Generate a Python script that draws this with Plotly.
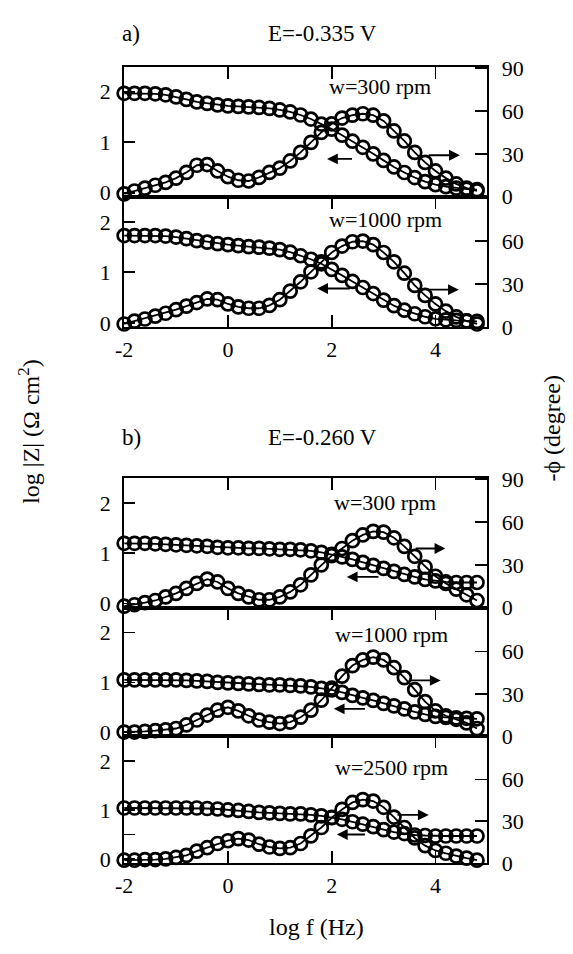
import plotly.graph_objects as go

# ---------------- data ----------------
LOGF = [-2.0, -1.8, -1.6, -1.4, -1.2, -1.0, -0.8, -0.6, -0.4, -0.2,
        0.0, 0.2, 0.4, 0.6, 0.8, 1.0, 1.2, 1.4, 1.6, 1.8,
        2.0, 2.2, 2.4, 2.6, 2.8, 3.0, 3.2, 3.4, 3.6, 3.8,
        4.0, 4.2, 4.4, 4.6, 4.8]

# a) E = -0.335 V, w = 300 rpm
A1_LOGZ = [1.97, 1.97, 1.97, 1.96, 1.94, 1.90, 1.85, 1.80, 1.77, 1.74,
           1.72, 1.71, 1.70, 1.69, 1.67, 1.64, 1.60, 1.54, 1.46, 1.36,
           1.26, 1.14, 1.02, 0.90, 0.77, 0.64, 0.51, 0.40, 0.30, 0.22,
           0.16, 0.12, 0.09, 0.07, 0.06]
A1_PHI = [2, 4, 6, 8, 10, 13, 17, 22, 22.5, 18,
          14, 11.5, 11, 13.5, 17, 20, 25, 31, 38, 45,
          51, 55, 57, 58, 57, 53, 46, 39, 31, 24,
          18, 13, 9, 6, 4]
# a) E = -0.335 V, w = 1000 rpm
A2_LOGZ = [1.73, 1.73, 1.73, 1.73, 1.72, 1.70, 1.67, 1.63, 1.60, 1.57,
           1.55, 1.53, 1.51, 1.50, 1.48, 1.45, 1.40, 1.33, 1.26, 1.17,
           1.06, 0.94, 0.82, 0.70, 0.58, 0.45, 0.34, 0.25, 0.18, 0.12,
           0.08, 0.06, 0.05, 0.04, 0.03]
A2_PHI = [2, 4, 5.5, 7.5, 9.5, 12, 14.5, 17, 19.5, 19,
          16, 14, 13, 13, 15, 19, 25, 31.5, 38.5, 45.5,
          52, 56.5, 59.5, 60, 57.5, 52, 45.5, 37.5, 29, 22,
          16, 11, 7, 4, 2]
# b) E = -0.260 V, w = 300 rpm
B1_LOGZ = [1.20, 1.20, 1.20, 1.19, 1.18, 1.17, 1.16, 1.15, 1.14, 1.12,
           1.11, 1.11, 1.10, 1.10, 1.09, 1.08, 1.08, 1.07, 1.05, 1.02,
           0.98, 0.93, 0.88, 0.82, 0.76, 0.70, 0.64, 0.58, 0.53, 0.48,
           0.45, 0.43, 0.42, 0.42, 0.42]
B1_PHI = [1, 2, 3.5, 5, 7.5, 10, 13.5, 17, 20, 18,
          13.5, 10, 7.5, 5.5, 5.5, 7.5, 11, 16, 23, 30,
          36.5, 41.5, 47, 51, 53.5, 53, 49, 43, 36, 28.5,
          22, 17, 13, 9, 5]
# b) E = -0.260 V, w = 1000 rpm
B2_LOGZ = [1.05, 1.05, 1.05, 1.05, 1.05, 1.05, 1.04, 1.03, 1.02, 1.00,
           0.99, 0.98, 0.97, 0.96, 0.95, 0.95, 0.94, 0.93, 0.91, 0.88,
           0.85, 0.80, 0.74, 0.69, 0.64, 0.58, 0.53, 0.47, 0.41, 0.36,
           0.32, 0.30, 0.29, 0.28, 0.27]
B2_PHI = [3, 3, 3.5, 4, 4.5, 5.5, 8, 11.5, 15, 18.5,
          20.5, 18, 14.5, 11.5, 10, 9, 10, 13.5, 18.5, 25.5,
          34, 42.5, 50, 54, 56, 54, 48.5, 41.5, 33, 24.5,
          18, 14.5, 12, 9.5, 5.5]
# b) E = -0.260 V, w = 2500 rpm
B3_LOGZ = [1.04, 1.04, 1.04, 1.04, 1.04, 1.04, 1.04, 1.04, 1.03, 1.02,
           1.00, 0.99, 0.97, 0.95, 0.94, 0.93, 0.92, 0.92, 0.90, 0.88,
           0.85, 0.81, 0.76, 0.71, 0.66, 0.60, 0.55, 0.52, 0.49, 0.48,
           0.47, 0.47, 0.47, 0.47, 0.47]
B3_PHI = [2, 2, 2.5, 2.5, 3, 4, 5.5, 8.5, 11, 14,
          16, 17.5, 16.5, 13.5, 11.5, 10.5, 11, 14, 19.5, 25.5,
          32.5, 38.5, 43.5, 45.5, 44.5, 40, 33, 25.5, 18, 12.5,
          9, 7, 5, 3.5, 2]

SPEEDS = ["w=300 rpm", "w=1000 rpm", "w=300 rpm", "w=1000 rpm", "w=2500 rpm"]
X_TICKS = [-2, 0, 2, 4]
X_TICKTEXT = ["-2", "0", "2", "4"]
LEFT_TICKS = [0, 1, 2]
RIGHT_TICKS_TOP = [0, 30, 60, 90]
RIGHT_TICKS = [0, 30, 60]

# ---------------- layout helpers ----------------
W, H = 573, 954
FONT = "Liberation Serif, Times New Roman, Times, DejaVu Serif, serif"
XL, XR = 117, 486


def fy(py):
    return 1 - py / H


def fx(px):
    return px / W


# panel frames in pixel rows (top, bottom)
panels = [
    dict(top=57, bot=190.5, z=A1_LOGZ, p=A1_PHI, rt=RIGHT_TICKS_TOP, bottom=False,
         lab=(377, 77), arrL=(1.91, 2.42, 0.67), arrR=(4.47, 3.84, 29)),
    dict(top=190.5, bot=324, z=A2_LOGZ, p=A2_PHI, rt=RIGHT_TICKS, bottom=True,
         lab=(383, 214), arrL=(1.72, 2.38, 0.68), arrR=(4.45, 3.84, 26)),
    dict(top=479, bot=612, z=B1_LOGZ, p=B1_PHI, rt=RIGHT_TICKS_TOP, bottom=False,
         lab=(382, 504), arrL=(2.29, 2.93, 0.53), arrR=(4.19, 3.59, 41.5)),
    dict(top=612, bot=744, z=B2_LOGZ, p=B2_PHI, rt=RIGHT_TICKS, bottom=False,
         lab=(389, 640), arrL=(2.04, 2.67, 0.47), arrR=(4.10, 3.50, 39.5)),
    dict(top=744, bot=874, z=B3_LOGZ, p=B3_PHI, rt=RIGHT_TICKS, bottom=True,
         lab=(389, 776), arrL=(2.10, 2.67, 0.50), arrR=(3.87, 3.24, 34.5)),
]

fig = go.Figure()
layout = {}
annotations = []

marker = dict(symbol="circle-open", size=13, color="black", line=dict(color="black", width=2.7))
line = dict(color="black", width=1.8)

tickfont = dict(family=FONT, size=22, color="black")

for i, pnl in enumerate(panels, start=1):
    xid = "x" if i == 1 else f"x{i}"
    yl_n, yr_n = 2 * i - 1, 2 * i
    ylid = "y" if yl_n == 1 else f"y{yl_n}"
    yrid = f"y{yr_n}"
    dom = [fy(pnl["bot"]), fy(pnl["top"])]

    fig.add_trace(go.Scatter(x=LOGF, y=pnl["z"], xaxis=xid, yaxis=ylid, mode="lines+markers",
                             marker=marker, line=line, cliponaxis=False, showlegend=False,
                             hoverinfo="skip"))
    fig.add_trace(go.Scatter(x=LOGF, y=pnl["p"], xaxis=xid, yaxis=yrid, mode="lines+markers",
                             marker=marker, line=line, cliponaxis=False, showlegend=False,
                             hoverinfo="skip"))

    xa = dict(domain=[fx(XL), fx(XR)], range=[-2, 5], anchor=ylid,
              tickvals=X_TICKS, ticktext=X_TICKTEXT,
              ticks="inside", ticklen=12, tickwidth=1.8, tickcolor="black",
              showline=True, linecolor="black", linewidth=2, showgrid=False, zeroline=False,
              tickfont=tickfont, fixedrange=True)
    if pnl["bottom"]:
        xa.update(side="bottom", mirror="ticks", showticklabels=True, ticklabelstandoff=2)
    else:
        xa.update(side="top", mirror=True, showticklabels=False)
    layout["xaxis" if i == 1 else f"xaxis{i}"] = xa

    ltv = LEFT_TICKS + ([0.5] if i == 5 else [])
    ltt = [str(v) if v != 0.5 else "" for v in ltv]
    layout["yaxis" if yl_n == 1 else f"yaxis{yl_n}"] = dict(
        domain=dom, range=[-0.08, 2.5], anchor=xid, side="left",
        tickvals=ltv, ticktext=ltt, ticks="inside", ticklen=11, tickwidth=1.8, tickcolor="black",
        showline=True, linecolor="black", linewidth=2, showgrid=False, zeroline=False,
        tickfont=tickfont, ticklabelstandoff=7, fixedrange=True)
    layout[f"yaxis{yr_n}"] = dict(
        domain=dom, range=[0, 91], anchor=xid, side="right", overlaying=ylid,
        tickvals=pnl["rt"], ticks="inside", ticklen=12, tickwidth=1.8, tickcolor="black",
        showline=True, linecolor="black", linewidth=2, showgrid=False, zeroline=False,
        tickfont=tickfont, ticklabelstandoff=8, fixedrange=True)

    # rotation speed label
    annotations.append(dict(text=SPEEDS[i - 1], x=fx(pnl["lab"][0]), y=fy(pnl["lab"][1]),
                            xref="paper", yref="paper", showarrow=False,
                            font=dict(family=FONT, size=22, color="black"),
                            xanchor="center", yanchor="middle"))
    # arrows pointing to the relevant axis
    hx, tx, yv = pnl["arrL"]
    annotations.append(dict(text="", x=hx, y=yv, ax=tx, ay=yv, xref=xid, yref=ylid,
                            axref=xid, ayref=ylid, showarrow=True, arrowhead=2,
                            arrowsize=1.2, arrowwidth=1.8, arrowcolor="black"))
    hx, tx, yv = pnl["arrR"]
    annotations.append(dict(text="", x=hx, y=yv, ax=tx, ay=yv, xref=xid, yref=yrid,
                            axref=xid, ayref=yrid, showarrow=True, arrowhead=2,
                            arrowsize=1.2, arrowwidth=1.8, arrowcolor="black"))

texts = [
    ("a)", 124, 23, 23),
    ("E=-0.335 V", 318, 23, 23),
    ("b)", 124, 437, 23),
    ("E=-0.260 V", 318, 437, 23),
    ("log f (Hz)", 312, 940, 24),
]
for t, x, y, s in texts:
    annotations.append(dict(text=t, x=fx(x), y=fy(y), xref="paper", yref="paper", showarrow=False,
                            font=dict(family=FONT, size=s, color="black"),
                            xanchor="center", yanchor="middle"))

annotations.append(dict(text="log |Z| (Ω cm<sup>2</sup>)", x=fx(20), y=fy(432), xref="paper", yref="paper",
                        showarrow=False, textangle=-90, font=dict(family=FONT, size=24, color="black"),
                        xanchor="center", yanchor="middle"))
annotations.append(dict(text="-ϕ (degree)", x=fx(552), y=fy(428), xref="paper", yref="paper",
                        showarrow=False, textangle=-90, font=dict(family=FONT, size=24, color="black"),
                        xanchor="center", yanchor="middle"))

fig.update_layout(width=W, height=H, autosize=False,
                  margin=dict(l=0, r=0, t=0, b=0, pad=0),
                  paper_bgcolor="white", plot_bgcolor="white",
                  font=dict(family=FONT, size=22, color="black"),
                  hovermode=False,
                  annotations=annotations, **layout)

fig.write_html("out.html", config={"displayModeBar": False, "staticPlot": True},
               post_script="document.body.style.margin='0px';document.body.style.padding='0px';")
